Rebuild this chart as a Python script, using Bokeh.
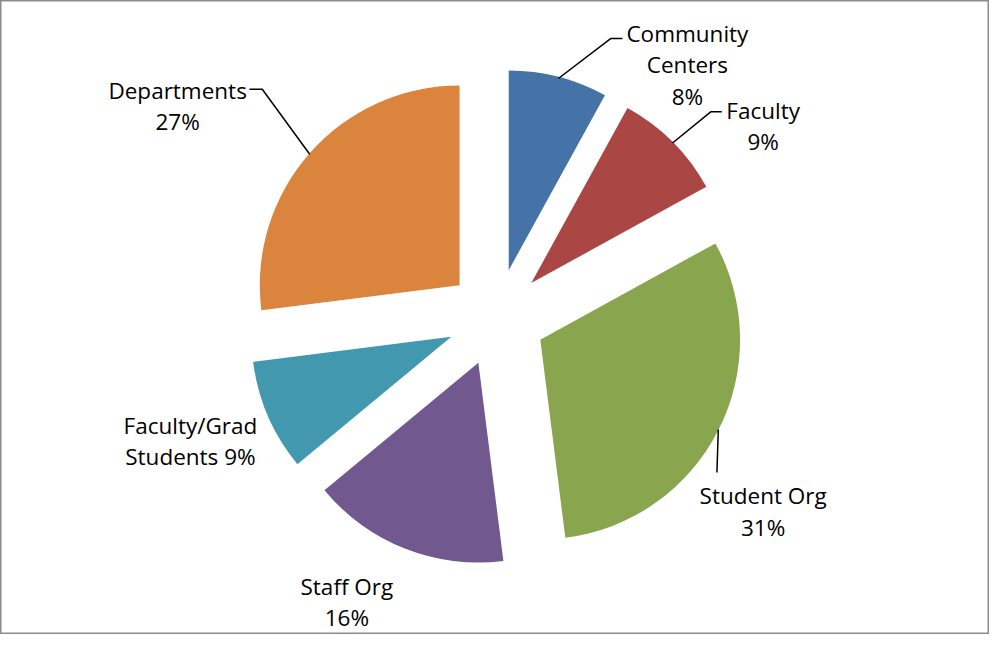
import math
from bokeh.plotting import figure
from bokeh.models import Range1d
from bokeh.core.properties import value
from bokeh.embed import file_html
from bokeh.resources import INLINE

# ---- data ----
categories = ["Community Centers", "Faculty", "Student Org", "Staff Org",
              "Faculty/Grad Students", "Departments"]
shares = [8, 9, 31, 16, 9, 27]
colors = ["#4572A7", "#AA4643", "#89A54E", "#71588F", "#4198AF", "#DB843D"]
# how each label wraps (Excel-style), and separator before the percentage
label_names = ["Community\nCenters", "Faculty", "Student Org", "Staff Org",
               "Faculty/Grad\nStudents", "Departments"]
label_seps = ["\n", "\n", "\n", "\n", " ", "\n"]

# ---- layout (chart units, y measured from the top) ----
W, H = 1005, 650
center = (504, 325)
radius = 203
explode = 50
label_pos = [(698, 34), (775, 113), (775, 508), (352, 601), (193, 436), (180, 92)]
line_h = 32
leader_pts = [[(620, 39), (632, 39)], [(722, 114), (733, 114)], [(728, 484)],
              [], [], [(266, 91), (253, 91)]]
FONT = "Open Sans"
FONT_SIZE = "22.5px"

p = figure(width=989, height=634, output_backend="svg", toolbar_location=None,
           x_range=Range1d(0, W), y_range=Range1d(0, H),
           min_border=0, background_fill_color="white", border_fill_color="white")
p.axis.visible = False
p.grid.visible = False
p.outline_line_color = "#8c8c8c"
p.outline_line_width = 2

def fy(y):
    return H - y

total = sum(shares)
cum = 0
wx, wy, sa, ea = [], [], [], []
lead_xs, lead_ys = [], []
for i, s in enumerate(shares):
    t0 = math.radians(90 - 360 * cum / total)
    cum += s
    t1 = math.radians(90 - 360 * cum / total)
    mid = (t0 + t1) / 2
    cx = center[0] + explode * math.cos(mid)
    cy = fy(center[1]) + explode * math.sin(mid)
    wx.append(cx); wy.append(cy); sa.append(t1); ea.append(t0)
    if leader_pts[i]:
        ax = cx + radius * math.cos(mid)
        ay = cy + radius * math.sin(mid)
        lead_xs.append([ax] + [q[0] for q in leader_pts[i]])
        lead_ys.append([ay] + [fy(q[1]) for q in leader_pts[i]])

p.wedge(x=wx, y=wy, radius=radius, start_angle=sa, end_angle=ea,
        direction="anticlock", fill_color=colors, line_color=None)

p.multi_line(xs=lead_xs, ys=lead_ys, line_color="black", line_width=1.5)

tx, ty, tt = [], [], []
for i, name in enumerate(label_names):
    full = name + label_seps[i] + f"{shares[i]}%"
    for k, line in enumerate(full.split("\n")):
        tx.append(label_pos[i][0])
        ty.append(fy(label_pos[i][1] + k * line_h))
        tt.append(line)

p.text(x=tx, y=ty, text=tt, text_align="center", text_baseline="alphabetic",
       text_font=value(FONT), text_font_size=FONT_SIZE, text_color="black")

open("out.html", "w").write(file_html(p, INLINE))
